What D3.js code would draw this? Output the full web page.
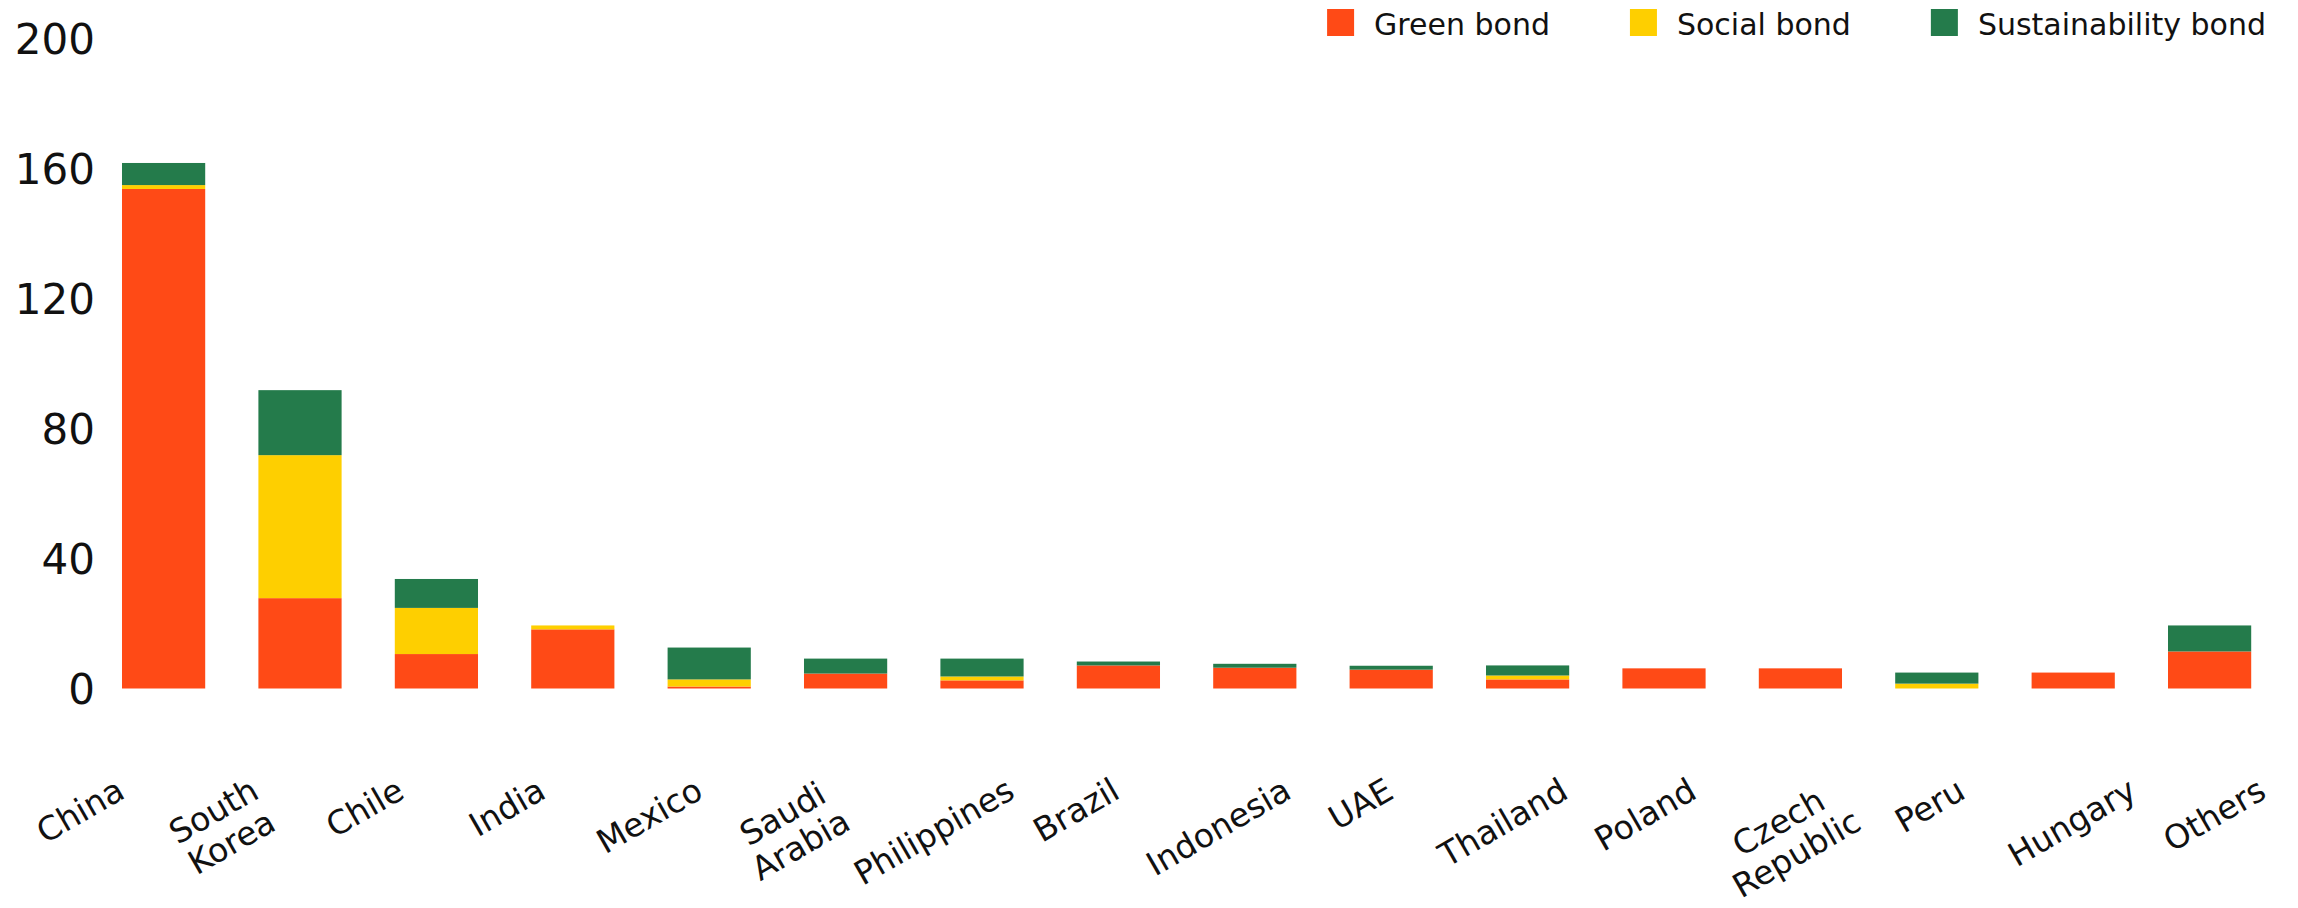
<!DOCTYPE html>
<html>
<head>
<meta charset="utf-8">
<script src="https://cdn.jsdelivr.net/npm/d3@7"></script>
<style>
  html, body { margin: 0; padding: 0; background: #fff; }
  svg { display: block; }
</style>
</head>
<body>
<svg id="chart" width="2298" height="908"></svg>
<script>
// ---- Data ----
const categories = ["China", "South\nKorea", "Chile", "India", "Mexico", "Saudi\nArabia",
  "Philippines", "Brazil", "Indonesia", "UAE", "Thailand", "Poland",
  "Czech\nRepublic", "Peru", "Hungary", "Others"];
const seriesNames = ["Green bond", "Social bond", "Sustainability bond"];
const greenBond          = [153.7, 27.8, 10.6, 18.2, 0.6, 4.6, 2.5, 7.1, 6.4, 5.8, 2.8, 6.2, 6.2, 0.0, 4.9, 11.4];
const socialBond         = [1.2, 44.0, 14.2, 1.2, 2.2, 0.0, 1.2, 0.0, 0.0, 0.0, 1.2, 0.0, 0.0, 1.5, 0.0, 0.0];
const sustainabilityBond = [6.8, 20.0, 8.9, 0.0, 9.8, 4.6, 5.5, 1.2, 1.2, 1.2, 3.1, 0.0, 0.0, 3.4, 0.0, 8.0];
const yTicks = [0, 40, 80, 120, 160, 200];
const colors = ["#ff4a16", "#fecf00", "#247b4b"];

// ---- Build table ----
const keys = ["green", "social", "sust"];
const table = categories.map((c, i) => ({
  cat: c, green: greenBond[i], social: socialBond[i], sust: sustainabilityBond[i]
}));

const svg = d3.select("#chart");
const FONT = "'DejaVu Sans', sans-serif";

const x = d3.scaleBand()
  .domain(categories)
  .range([95.4, 2277.8])
  .paddingInner(0.39)
  .paddingOuter(0.195);

// category labels are centred on their own, slightly wider, point scale
const xLabel = d3.scalePoint().domain(categories).range([80, 2214]);

const y = d3.scaleLinear().domain([0, 200]).range([688.5, 38.5]);
const color = d3.scaleOrdinal().domain(keys).range(colors);

const stacked = d3.stack().keys(keys)(table);

// bars
svg.append("g").selectAll("g")
  .data(stacked)
  .join("g")
  .attr("fill", d => color(d.key))
  .selectAll("rect")
  .data(d => d)
  .join("rect")
  .attr("x", d => x(d.data.cat))
  .attr("width", x.bandwidth())
  .attr("y", d => y(d[1]))
  .attr("height", d => Math.max(0, y(d[0]) - y(d[1])));

// y axis (labels only)
const yAxis = d3.axisLeft(y).tickValues(yTicks).tickSize(0).tickPadding(0);
const yg = svg.append("g").attr("transform", "translate(95,0)").call(yAxis);
yg.select(".domain").remove();
yg.selectAll("text")
  .attr("font-family", FONT)
  .attr("font-size", 42)
  .attr("fill", "#111")
  .attr("dy", "0.36em");

// x axis labels: rotated -30deg, right end of first line on a common baseline
const lineH = 36, fs = 33, angle = 30, baseY = 797;
const rad = angle * Math.PI / 180;
const capH = 0.73 * fs;
svg.append("g").selectAll("g")
  .data(categories)
  .join("g")
  .each(function(d) {
    const g = d3.select(this);
    const lines = d.split("\n");
    const t = g.append("text")
      .attr("font-family", FONT)
      .attr("font-size", fs)
      .attr("fill", "#111");
    const spans = lines.map((ln, j) => t.append("tspan").attr("y", j * lineH).text(ln));
    const w = d3.max(spans, s => s.node().getComputedTextLength());
    if (lines.length === 1) {
      t.attr("text-anchor", "end");
      spans[0].attr("x", 0);
    } else {
      t.attr("text-anchor", "middle");
      spans.forEach(s => s.attr("x", -w / 2));
    }
    // centre of the label block in local (unrotated) coordinates
    const lcx = -w / 2;
    const lcy = (lines.length - 1) * lineH / 2 - capH / 2;
    const sx = lcx * Math.cos(rad) + lcy * Math.sin(rad);
    const ax = xLabel(d) - sx;
    g.attr("transform", `translate(${ax},${baseY}) rotate(${-angle})`);
  });

// legend (right aligned)
const legend = svg.append("g");
const items = seriesNames.map((n, i) => ({ name: n, key: keys[i] }));
const rightEdge = 2266;
const sw = 27, gapSwText = 20, gapItems = 80;
const widths = items.map(it => {
  const tt = svg.append("text").attr("font-family", FONT).attr("font-size", 30).text(it.name);
  const w = tt.node().getComputedTextLength();
  tt.remove();
  return w;
});
let cursor = rightEdge;
const positions = [];
for (let i = items.length - 1; i >= 0; i--) {
  const textX = cursor - widths[i];
  const swX = textX - gapSwText - sw;
  positions[i] = { swX, textX };
  cursor = swX - gapItems;
}
items.forEach((it, i) => {
  legend.append("rect")
    .attr("x", positions[i].swX).attr("y", 9)
    .attr("width", sw).attr("height", sw)
    .attr("fill", color(it.key));
  legend.append("text")
    .attr("x", positions[i].textX).attr("y", 35)
    .attr("font-family", FONT).attr("font-size", 30)
    .attr("fill", "#111")
    .text(it.name);
});
</script>
</body>
</html>
